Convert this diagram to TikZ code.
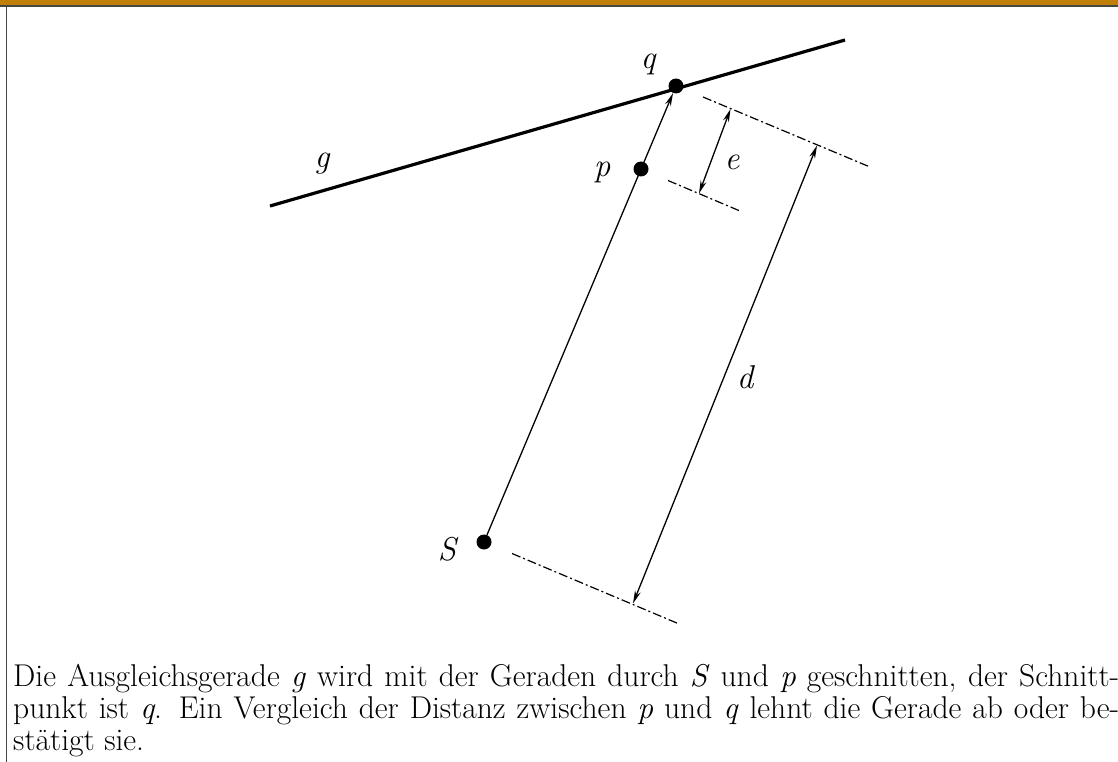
\documentclass[tikz,border=0pt]{standalone}
\usepackage{fontspec}
\usetikzlibrary{arrows.meta}
\definecolor{barcol}{RGB}{192,128,8}
\definecolor{framecol}{RGB}{70,70,70}
\newcommand{\mv}[1]{\textit{#1}}
\begin{document}
\begin{tikzpicture}[x=1pt,y=-1pt,
  dot/.style={circle,fill=black,inner sep=0pt,minimum size=15pt},
  lbl/.style={inner sep=0pt,font=\fontsize{33}{36}\selectfont\itshape},
  thinline/.style={line width=1.3pt},
  thickline/.style={line width=3.2pt},
  perp/.style={line width=1.2pt,dash pattern=on 9pt off 3pt on 2pt off 3pt},
  tipend/.style={-{Stealth[open,length=13pt,width=6pt]}},
  tipboth/.style={{Stealth[open,length=13pt,width=6pt]}-{Stealth[open,length=13pt,width=6pt]}},
  captxt/.style={anchor=base west,inner sep=0pt,font=\fontsize{31.5}{30}\selectfont}
]
\useasboundingbox (0,0) rectangle (1118,762);
% top bar and frame
\fill[barcol] (0,0) rectangle (1118,5.3);
\draw[framecol,line width=1.5pt] (0,6.2) -- (1118,6.2);
\draw[framecol,line width=1.5pt] (6.5,6.2) -- (6.5,762);

% line g
\coordinate (g1) at (270,206);
\coordinate (g2) at (845,40);
\draw[thickline] (g1) -- (g2);

% points
\node[dot] (q) at (676,86) {};
\node[dot] (p) at (641,169) {};
\node[dot] (S) at (484,542) {};

% line from S through p to q
\draw[thinline,tipend] (S) -- (q);

% perpendicular dash-dot lines
\coordinate (qa) at (703,97);
\coordinate (qb) at (870,167);
\coordinate (pa) at (668,180.5);
\coordinate (pb) at (740,211);
\coordinate (sa) at (512,553.5);
\coordinate (sb) at (678,623.5);
\draw[perp] (qa) -- (qb);
\draw[perp] (pa) -- (pb);
\draw[perp] (sa) -- (sb);

% e arrow
\coordinate (e1) at (730.5,109);
\coordinate (e2) at (699,193.5);
\draw[thinline,tipboth] (e2) -- (e1);

% d arrow
\coordinate (d1) at (817,145.5);
\coordinate (d2) at (633,603.5);
\draw[thinline,tipboth] (d2) -- (d1);

% labels
\node[lbl] (lq) at (648,64) {q};
\node[lbl] (lp) at (602,172) {p};
\node[lbl] (lg) at (322,164) {g};
\node[lbl] (le) at (732,162) {e};
\node[lbl] (ld) at (745,377) {d};
\node[lbl] (lS) at (447,549) {S};

% caption
\node[captxt] (c1) at (13,686) {\hbox to 1106pt{Die Ausgleichsgerade \mv{g} wird mit der Geraden durch \mv{S} und \mv{p} geschnitten, der Schnitt-}};
\node[captxt] (c2) at (13,718) {\hbox to 1106pt{punkt ist \mv{q}. Ein Vergleich der Distanz zwischen \mv{p} und \mv{q} lehnt die Gerade ab oder be-}};
\node[captxt] (c3) at (13,750) {stätigt sie.};
\end{tikzpicture}
\end{document}
